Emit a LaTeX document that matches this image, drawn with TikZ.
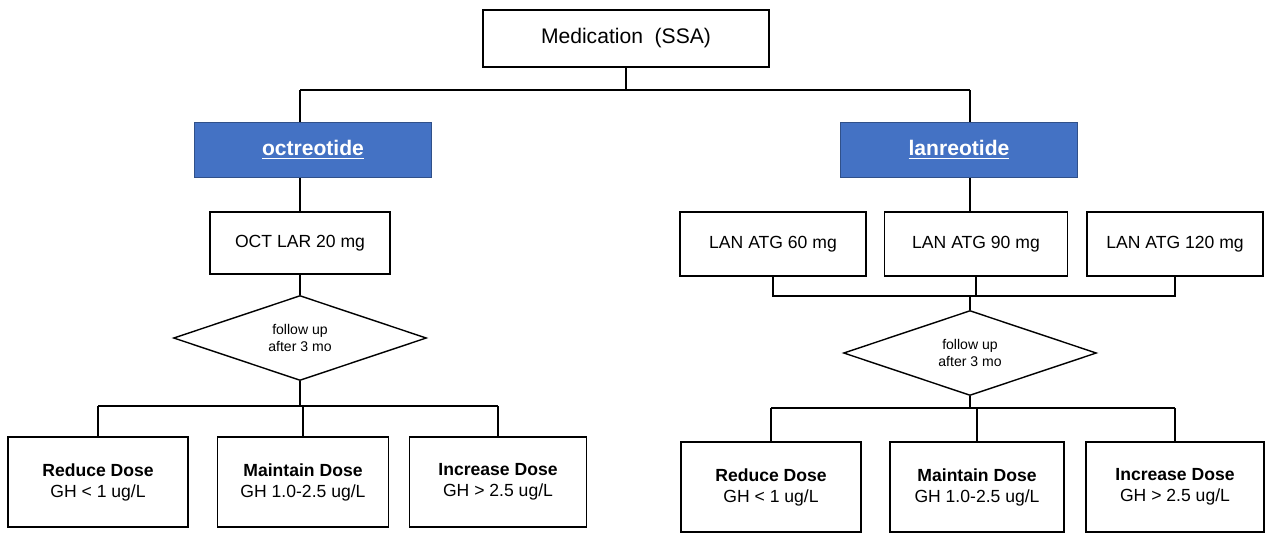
\documentclass[tikz,border=0pt]{standalone}
\usepackage{fontspec}
\setmainfont{Liberation Sans}
\usetikzlibrary{shapes.geometric}
\usetikzlibrary{positioning}
\usetikzlibrary{calc}

\definecolor{drugblue}{HTML}{4472C4}

\tikzset{
  plain/.style={draw, thick, fill=white, align=center, font=\fontsize{10}{12}\selectfont},
  drug/.style={draw=drugblue!70!black, fill=drugblue, text=white, minimum width=4.74cm, minimum height=1.1cm, font=\bfseries\fontsize{12}{14}\selectfont},
  dose/.style={plain, minimum width=3.6cm, minimum height=1.8cm},
  check/.style={draw, thick, diamond, aspect=3, fill=white, minimum width=5.06cm, minimum height=1.7cm, inner sep=0pt, align=center, font=\fontsize{8}{10}\selectfont},
  link/.style={thick}
}
\newcommand{\drugname}[1]{\underline{#1}}

\begin{document}
\begin{tikzpicture}[x=0.02cm, y=-0.02cm]
        \useasboundingbox (0,0) rectangle (1274,549);
        % top
        \node[plain, minimum width=5.72cm, minimum height=1.14cm, font=\fontsize{12}{14}\selectfont] (ssa) at (626,38.5) {Medication\ \ (SSA)};
        \node[drug] (oct) at (313,150) {\drugname{octreotide}};
        \node[drug] (lan) at (959,150) {\drugname{lanreotide}};
        \coordinate (splitL) at (300,90);
        \coordinate (splitR) at (970,90);
        \coordinate (splitM) at (626,90);
        \draw[link] (ssa.south) -- (splitM);
        \draw[link] (splitL) -- (splitR);
        \draw[link] (splitL) -- (splitL |- oct.north);
        \draw[link] (splitR) -- (splitR |- lan.north);

        % octreotide branch
        \node[plain, minimum width=3.6cm, minimum height=1.24cm] (octlar) at (300,243) {OCT LAR 20 mg};
        \node[check] (fuL) at (300,338) {follow up\\after 3 mo};
        \draw[link] (octlar.north |- oct.south) -- (octlar.north);
        \draw[link] (octlar) -- (fuL);
        \node[dose] (redL) at (98,482) {\textbf{Reduce Dose}\\GH < 1 ug/L};
        \node[dose, minimum width=3.42cm] (maiL) at (303,482) {\textbf{Maintain Dose}\\GH 1.0-2.5 ug/L};
        \node[dose, minimum width=3.54cm] (incL) at (498,482) {\textbf{Increase Dose}\\GH > 2.5 ug/L};
        \coordinate (barL) at (300,406);
        \draw[link] (fuL.south) -- (barL);
        \draw[link] (redL.north |- barL) -- (incL.north |- barL);
        \foreach \n in {redL, maiL, incL}
            \draw[link] (\n.north |- barL) -- (\n.north);

        % lanreotide branch
        \node[plain, minimum width=3.72cm, minimum height=1.28cm] (lan60) at (773,244) {LAN ATG 60 mg};
        \node[plain, minimum width=3.66cm, minimum height=1.28cm] (lan90) at (976,244) {LAN ATG 90 mg};
        \node[plain, minimum width=3.52cm, minimum height=1.28cm] (lan120) at (1175,244) {LAN ATG 120 mg};
        \draw[link] (splitR |- lan.south) -- (splitR |- lan90.north);
        \coordinate (joinR) at (970,296);
        \draw[link] (lan60.south) -- (lan60.south |- joinR) -- (lan120.south |- joinR) -- (lan120.south);
        \draw[link] (lan90.south) -- (lan90.south |- joinR);
        \node[check] (fuR) at (970,353) {follow up\\after 3 mo};
        \draw[link] (joinR) -- (fuR.north);
        \node[dose] (redR) at (771,487) {\textbf{Reduce Dose}\\GH < 1 ug/L};
        \node[dose, minimum width=3.48cm] (maiR) at (977,487) {\textbf{Maintain Dose}\\GH 1.0-2.5 ug/L};
        \node[dose, minimum width=3.56cm] (incR) at (1175,487) {\textbf{Increase Dose}\\GH > 2.5 ug/L};
        \coordinate (barR) at (970,408);
        \draw[link] (fuR.south) -- (barR);
        \draw[link] (redR.north |- barR) -- (incR.north |- barR);
        \foreach \n in {redR, maiR, incR}
            \draw[link] (\n.north |- barR) -- (\n.north);
\end{tikzpicture}
\end{document}
